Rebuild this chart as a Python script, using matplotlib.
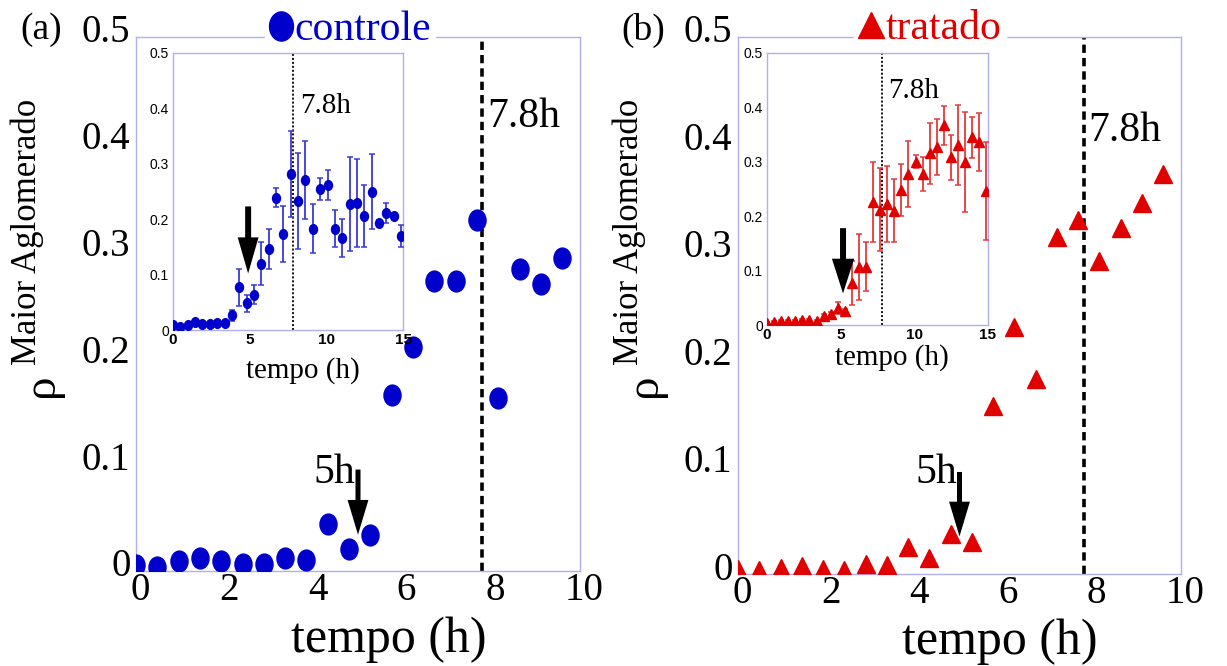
import matplotlib
matplotlib.use("Agg")
import matplotlib.pyplot as plt
from matplotlib.lines import Line2D
from matplotlib.path import Path
from matplotlib.transforms import Affine2D, ScaledTranslation

# ---------------- data ----------------
t_main = [0.00, 0.48, 0.96, 1.44, 1.92, 2.40, 2.88, 3.36, 3.84, 4.32, 4.80,
          5.28, 5.76, 6.24, 6.72, 7.20, 7.68, 8.16, 8.64, 9.12, 9.60]
rho_ctrl_main = [0.006, 0.004, 0.009, 0.012, 0.009, 0.007, 0.007, 0.012, 0.010,
                 0.044, 0.021, 0.034, 0.165, 0.210, 0.272, 0.272, 0.329,
                 0.162, 0.283, 0.269, 0.293]
rho_trat_main = [0.005, 0.004, 0.006, 0.007, 0.005, 0.004, 0.009, 0.008, 0.025,
                 0.015, 0.037, 0.030, 0.156, 0.230, 0.182, 0.314, 0.330,
                 0.291, 0.322, 0.345, 0.372]

t_inset = [0.00, 0.48, 0.96, 1.44, 1.92, 2.40, 2.88, 3.36, 3.84, 4.32, 4.80,
           5.28, 5.76, 6.24, 6.72, 7.20, 7.68, 8.16, 8.64, 9.12, 9.60, 10.08,
           10.56, 11.04, 11.52, 12.00, 12.48, 12.96, 13.44, 13.92, 14.40, 14.88]
rho_ctrl_inset = [0.009, 0.006, 0.009, 0.015, 0.011, 0.011, 0.013, 0.012, 0.027,
                  0.077, 0.048, 0.064, 0.120, 0.146, 0.239, 0.173, 0.282, 0.233,
                  0.271, 0.183, 0.255, 0.261, 0.183, 0.166, 0.227, 0.229, 0.205,
                  0.250, 0.193, 0.212, 0.205, 0.170]
err_ctrl_inset = [0.003, 0.002, 0.003, 0.003, 0.003, 0.003, 0.003, 0.003, 0.010,
                  0.034, 0.015, 0.017, 0.039, 0.036, 0.017, 0.050, 0.078, 0.087,
                  0.070, 0.044, 0.020, 0.027, 0.033, 0.035, 0.085, 0.080, 0.056,
                  0.068, 0.006, 0.018, 0.006, 0.020]
rho_trat_inset = [0.004, 0.006, 0.007, 0.007, 0.007, 0.009, 0.009, 0.008, 0.017,
                  0.020, 0.032, 0.025, 0.077, 0.107, 0.107, 0.226, 0.212, 0.223,
                  0.210, 0.248, 0.278, 0.300, 0.277, 0.316, 0.327, 0.367, 0.308,
                  0.331, 0.299, 0.345, 0.336, 0.247]
err_trat_inset = [0.002, 0.002, 0.002, 0.002, 0.002, 0.002, 0.002, 0.002, 0.004,
                  0.004, 0.011, 0.004, 0.040, 0.061, 0.045, 0.074, 0.076, 0.070,
                  0.058, 0.048, 0.061, 0.012, 0.031, 0.056, 0.052, 0.036, 0.041,
                  0.074, 0.092, 0.038, 0.053, 0.090]

x_ticks_main = [0, 2, 4, 6, 8, 10]
y_ticks = [0, 0.1, 0.2, 0.3, 0.4, 0.5]
y_tick_labels = ["0", "0.1", "0.2", "0.3", "0.4", "0.5"]
x_ticks_inset = [0, 5, 10, 15]
t_onset = 5.0
t_peak = 7.8

# ---------------- style ----------------
W, H = 1227, 666
SERIF = ["Liberation Serif", "DejaVu Serif"]
SANS = ["Liberation Sans", "DejaVu Sans"]
BLUE = "#0000cc"
RED = "#e00000"
FRAME = "#b0b0f0"

fig = plt.figure(figsize=(W / 100, H / 100), dpi=100)


def box(l, t, r, b):
    """pixel box (left, top, right, bottom) -> figure fraction rect"""
    return [l / W, 1 - b / H, (r - l) / W, (b - t) / H]


def fig_xy(x, y):
    return x / W, 1 - y / H


ellipse = Path.unit_circle().transformed(Affine2D().scale(0.82, 1.0))


def style_main(ax):
    ax.set_xlim(0, 10)
    ax.set_ylim(0, 0.5)
    for s in ax.spines.values():
        s.set_color(FRAME)
        s.set_linewidth(1.0)
    ax.set_xticks(x_ticks_main)
    ax.set_xticklabels([str(v) for v in x_ticks_main])
    ax.set_yticks(y_ticks)
    ax.set_yticklabels(y_tick_labels)
    ax.tick_params(length=0, labelsize=28)
    ax.tick_params(axis="x", pad=1)
    ax.tick_params(axis="y", pad=4)
    for lab in ax.get_xticklabels() + ax.get_yticklabels():
        lab.set_fontfamily(SERIF)
    for lab in ax.get_xticklabels():
        lab.set_transform(lab.get_transform() +
                          ScaledTranslation(0.04, 0, fig.dpi_scale_trans))
    for lab in ax.get_yticklabels():
        lab.set_transform(lab.get_transform() +
                          ScaledTranslation(0, 0.085, fig.dpi_scale_trans))
    ax.set_xlabel("tempo (h)", fontsize=36, family=SERIF)
    ax.xaxis.label.set_va("center")


def style_inset(ax):
    ax.set_xlim(0, 15)
    ax.set_ylim(0, 0.5)
    for s in ax.spines.values():
        s.set_color(FRAME)
        s.set_linewidth(1.0)
    ax.set_xticks(x_ticks_inset)
    ax.set_xticklabels([str(v) for v in x_ticks_inset])
    ax.set_yticks(y_ticks)
    ax.set_yticklabels(y_tick_labels)
    ax.tick_params(length=0)
    ax.tick_params(axis="x", labelsize=11, pad=2)
    ax.tick_params(axis="y", labelsize=10, pad=3)
    for lab in ax.get_xticklabels():
        lab.set_fontfamily(SANS)
        lab.set_fontweight("bold")
    for lab in ax.get_yticklabels():
        lab.set_fontfamily(SANS)
    ax.set_xlabel("tempo (h)", fontsize=21, family=SERIF)
    ax.xaxis.label.set_va("center")


def down_arrow(ax, x, y_top, y_tip, w, hw, hl):
    ax.annotate("", xy=(x, y_tip), xytext=(x, y_top),
                arrowprops=dict(width=w, headwidth=hw, headlength=hl,
                                facecolor="black", edgecolor="black",
                                shrink=0.0, linewidth=0))


# ================= panel (a): controle =================
ax_a = fig.add_axes(box(136, 37, 580, 571))
style_main(ax_a)
ax_a.plot(t_main, rho_ctrl_main, ls="none", marker=ellipse, ms=15,
          color=BLUE, mec=BLUE, zorder=3)
ax_a.axvline(t_peak, color="black", lw=2.6, ls="--", dashes=(2.3, 1.4))
ax_a.text(7.9, 0.425, "7.8h", fontsize=30, family=SERIF, va="center", ha="left")
ax_a.text(4.93, 0.092, "5h", fontsize=30, family=SERIF, va="center", ha="right")
down_arrow(ax_a, t_onset, 0.095, 0.034, 3.6, 15, 25)
ax_a.xaxis.set_label_coords(0.57, -0.129)
leg = ax_a.legend(handles=[Line2D([], [], ls="none", marker=ellipse, ms=21,
                                  color=BLUE)],
                  labels=["controle"], loc="center",
                  bbox_to_anchor=fig_xy(350, 30), bbox_transform=fig.transFigure,
                  frameon=True, fancybox=False, facecolor="white",
                  edgecolor="white", framealpha=1,
                  prop={"family": SERIF, "size": 30}, labelcolor=BLUE,
                  handlelength=0.55, handletextpad=0.05, borderpad=0.1,
                  borderaxespad=0)
leg.set_zorder(10)

ins_a = fig.add_axes(box(173, 53, 403, 330))
style_inset(ins_a)
ins_a.errorbar(t_inset, rho_ctrl_inset, yerr=err_ctrl_inset, ls="none",
               marker=ellipse, ms=7, color=BLUE, mec=BLUE, ecolor="#3a3ad6",
               elinewidth=1.3, capsize=2.2, capthick=1.1, zorder=3)
ins_a.axvline(t_peak, color="black", lw=1.3, ls=(0, (1.1, 1.1)))
ins_a.text(8.26, 0.404, "7.8h", fontsize=21, family=SERIF, va="center", ha="left")
down_arrow(ins_a, 4.9, 0.223, 0.102, 4.3, 15, 26)
ins_a.xaxis.set_label_coords(0.565, -0.145)

fig.text(*fig_xy(41, 30), "(a)", fontsize=27, family=SERIF, ha="center", va="center")
fig.text(*fig_xy(27, 232), "Maior Aglomerado", fontsize=25, family=SERIF,
         rotation=90, ha="center", va="center")
fig.text(*fig_xy(42, 385), "ρ", fontsize=34, family=SERIF,
         rotation=90, ha="center", va="center")

# ================= panel (b): tratado =================
ax_b = fig.add_axes(box(738, 37, 1181, 574))
style_main(ax_b)
ax_b.plot(t_main, rho_trat_main, ls="none", marker="^", ms=13,
          color=RED, mec=RED, zorder=3)
ax_b.axvline(t_peak, color="black", lw=2.6, ls="--", dashes=(2.3, 1.4))
ax_b.text(7.9, 0.413, "7.8h", fontsize=30, family=SERIF, va="center", ha="left")
ax_b.text(4.94, 0.094, "5h", fontsize=30, family=SERIF, va="center", ha="right")
down_arrow(ax_b, t_onset, 0.095, 0.035, 3.6, 15, 25)
ax_b.xaxis.set_label_coords(0.591, -0.127)
leg = ax_b.legend(handles=[Line2D([], [], ls="none", marker="^", ms=19,
                                  color=RED)],
                  labels=["tratado"], loc="center",
                  bbox_to_anchor=fig_xy(930, 29), bbox_transform=fig.transFigure,
                  frameon=True, fancybox=False, facecolor="white",
                  edgecolor="white", framealpha=1,
                  prop={"family": SERIF, "size": 30}, labelcolor=RED,
                  handlelength=0.6, handletextpad=0.05, borderpad=0.1,
                  borderaxespad=0)
leg.set_zorder(10)

ins_b = fig.add_axes(box(767, 53, 988, 325))
style_inset(ins_b)
ins_b.errorbar(t_inset, rho_trat_inset, yerr=err_trat_inset, ls="none",
               marker="^", ms=6.5, color=RED, mec=RED, ecolor="#e63a3a",
               elinewidth=1.3, capsize=2.2, capthick=1.1, zorder=3)
ins_b.axvline(t_peak, color="black", lw=1.3, ls=(0, (1.1, 1.1)))
ins_b.text(8.2, 0.43, "7.8h", fontsize=21, family=SERIF, va="center", ha="left")
down_arrow(ins_b, 5.16, 0.178, 0.058, 4.3, 16, 25)
ins_b.xaxis.set_label_coords(0.566, -0.121)

fig.text(*fig_xy(643, 30), "(b)", fontsize=27, family=SERIF, ha="center", va="center")
fig.text(*fig_xy(629, 232), "Maior Aglomerado", fontsize=25, family=SERIF,
         rotation=90, ha="center", va="center")
fig.text(*fig_xy(645, 385), "ρ", fontsize=34, family=SERIF,
         rotation=90, ha="center", va="center")

fig.savefig("out.png", dpi=100)
